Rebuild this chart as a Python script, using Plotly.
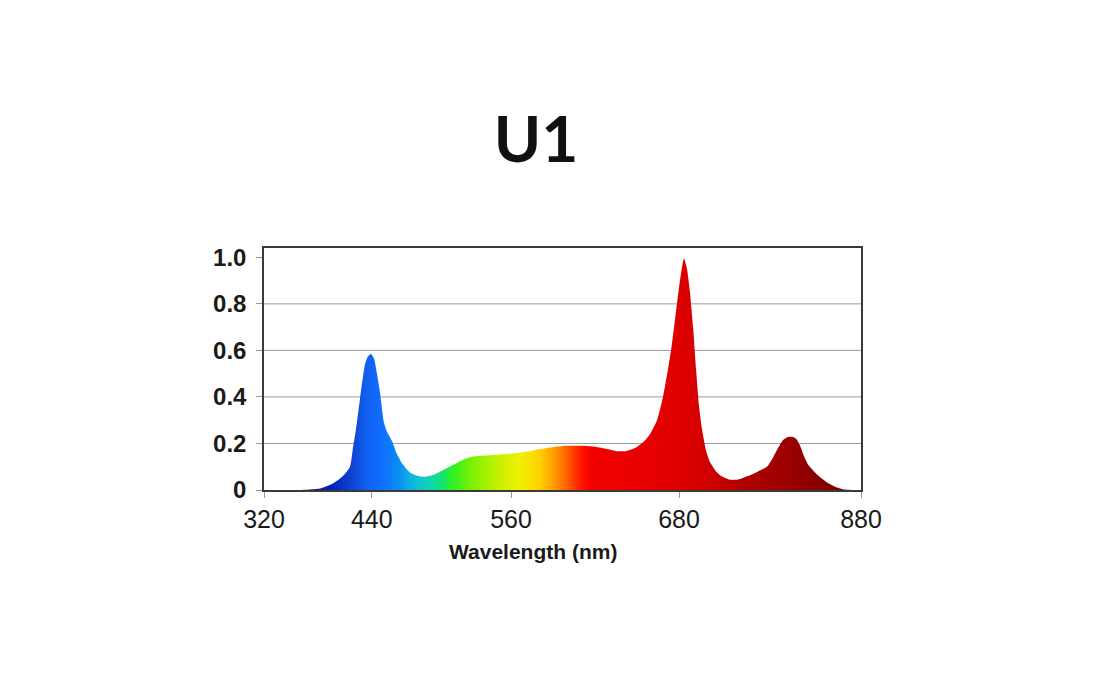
import plotly.graph_objects as go

# ---- data ----
title_text = "U1"
x_title = "Wavelength (nm)"

wavelength_nm = [380, 395, 404.1, 410.8, 417.5, 426.2, 432.9, 437.6, 439.6, 441.6, 444.3, 447.7,
                 449.7, 451.7, 453.7, 455.7, 457.7, 460.4, 462.4, 465.8, 469.1, 472.5, 477.8,
                 483.2, 487.9, 493.2, 499.9, 506.6, 513.3, 519.4, 528.1, 538.1, 548.2, 556.2,
                 564.9, 573.6, 581.7, 593.7, 601.8, 609.8, 616.5, 623.2, 628.6, 634.0, 638.6,
                 643.3, 647.3, 650.7, 653.4, 656.7, 659.4, 661.4, 663.4, 665.4, 667.5, 669.5,
                 671.5, 673.5, 676.2, 678.8, 682.9, 686.9, 692.2, 697.6, 704.3, 711.0, 717.0,
                 721.1, 724.4, 727.8, 731.1, 733.8, 736.5, 739.2, 741.8, 744.5, 748.5, 752.6,
                 757.9, 763.3, 769.3, 774.6, 780]
intensity = [0, 0, 0.0, 0.002, 0.006, 0.028, 0.06, 0.10, 0.18, 0.26, 0.39, 0.54,
             0.575, 0.585, 0.565, 0.50, 0.42, 0.29, 0.25, 0.21, 0.155, 0.115, 0.075,
             0.06, 0.057, 0.064, 0.085, 0.107, 0.13, 0.143, 0.148, 0.153, 0.158, 0.164,
             0.176, 0.184, 0.19, 0.19, 0.186, 0.176, 0.167, 0.168, 0.18, 0.205, 0.24,
             0.30, 0.40, 0.52, 0.63, 0.80, 0.93, 0.995, 0.95, 0.85, 0.70, 0.52,
             0.36, 0.26, 0.17, 0.12, 0.08, 0.058, 0.044, 0.045, 0.06, 0.08, 0.10,
             0.14, 0.18, 0.215, 0.228, 0.229, 0.22, 0.19, 0.145, 0.11, 0.08, 0.055,
             0.03, 0.012, 0.002, 0.0, 0]

x_tick_vals = [380, 452.2, 545.5, 658.1, 780]
x_tick_text = ["320", "440", "560", "680", "880"]
y_tick_vals = [0, 0.2, 0.4, 0.6, 0.8, 1.0]
y_tick_text = ["0", "0.2", "0.4", "0.6", "0.8", "1.0"]
grid_vals = [0.2, 0.4, 0.6, 0.8]

# spectral colour stops (nm, colour)
stop_nm = [380, 404, 424, 437.6, 449, 459.7, 471, 477.8, 489, 498, 506.6, 520, 538,
           551.5, 565, 573.6, 583, 593.7, 600.4, 636.6, 670, 703.6, 734.4, 752.5, 780]
stop_col = ["#101a70", "#101c80", "#0020b0", "#1040d0", "#1060f0", "#1070ff", "#0a90f0",
            "#10b0e0", "#10d0c0", "#10e080", "#30f020", "#80f000", "#c8f000",
            "#f0f000", "#ffd000", "#ffa000", "#ff6000", "#ff1000", "#f00000",
            "#e80000", "#d80000", "#b00000", "#980000", "#850000", "#800000"]

x_min, x_max = 380, 780
colorscale = [[(n - x_min) / (x_max - x_min), c] for n, c in zip(stop_nm, stop_col)]

fig = go.Figure()
fig.add_trace(go.Scatter(
    x=wavelength_nm, y=intensity, mode="lines",
    line=dict(width=0, shape="spline", smoothing=0.6),
    fill="tozeroy",
    fillgradient=dict(type="horizontal", colorscale=colorscale),
    hoverinfo="skip", showlegend=False,
))

shapes = [dict(type="line", xref="paper", x0=0, x1=1, yref="y", y0=g, y1=g,
               line=dict(color="#9a9a9a", width=1), layer="below") for g in grid_vals]

fig.update_layout(
    width=1100, height=695,
    margin=dict(l=256, r=247, t=240, b=213),
    paper_bgcolor="white", plot_bgcolor="white",
    shapes=shapes,
    title=dict(text=f"<b>{title_text}</b>", x=528 / 1100, xref="container", xanchor="center",
               y=1 - 132 / 695, yref="container", yanchor="middle",
               font=dict(family="Lato", size=64, color="#111111")),
    xaxis=dict(range=[x_min, x_max], tickvals=x_tick_vals, ticktext=x_tick_text,
               showgrid=False, zeroline=False, showline=True, mirror=True,
               linecolor="#3a3a3a", linewidth=1.5, ticks="outside", ticklen=6,
               tickcolor="#999999", tickwidth=1,
               tickfont=dict(family="Arial, Liberation Sans", size=25, color="#1a1a1a")),
    yaxis=dict(range=[0, 1.04], tickvals=y_tick_vals, ticktext=y_tick_text,
               showgrid=False, zeroline=False, showline=True, mirror=True,
               linecolor="#3a3a3a", linewidth=1.5, ticks="outside", ticklen=6,
               tickcolor="#999999", tickwidth=1, ticklabelstandoff=5,
               tickfont=dict(family="Arial, Liberation Sans", size=24, color="#1a1a1a",
                             weight="bold")),
    annotations=[dict(text=f"<b>{x_title}</b>", xref="paper", yref="paper",
                      x=(533 - 264) / 597, y=(490 - 551) / 242,
                      xanchor="center", yanchor="middle", showarrow=False,
                      font=dict(family="Arial, Liberation Sans", size=21, color="#1a1a1a"))],
)

fig.write_html("out.html")
